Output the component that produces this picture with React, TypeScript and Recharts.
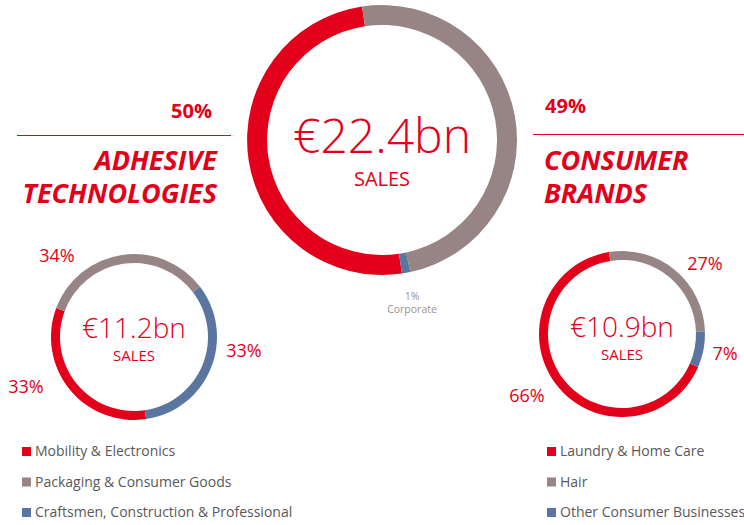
import React from "react";
import { Pie, PieChart, Cell } from "recharts";

// Group split (big ring) – order: Adhesive, Consumer, Corporate
const groupNames = ["Adhesive Technologies", "Consumer Brands", "Corporate"];
const groupShares = [50, 49, 1];

// Adhesive Technologies business units
const adhesiveNames = [
  "Mobility & Electronics",
  "Packaging & Consumer Goods",
  "Craftsmen, Construction & Professional",
];
const adhesiveShares = [33, 34, 33];

// Consumer Brands business units
const consumerNames = ["Laundry & Home Care", "Hair", "Other Consumer Businesses"];
const consumerShares = [66, 27, 7];

const totals = ["€22.4bn", "€11.2bn", "€10.9bn"];

const RED = "#E2001A";
const GREY = "#978585";
const BLUE = "#5A76A0";
const COLORS = [RED, GREY, BLUE];
const FONT = "'Open Sans', sans-serif";

const toRows = (names: string[], values: number[]) =>
  names.map((name, i) => ({ name, value: values[i] }));

// where the percent labels sit around the small rings
const adhesiveLabelPos = [
  { x: 26, y: 393 },
  { x: 57, y: 262 },
  { x: 244, y: 357 },
];
const consumerLabelPos = [
  { x: 527, y: 402 },
  { x: 705, y: 270 },
  { x: 725, y: 360 },
];

const Legend = ({ x, names }: { x: number; names: string[] }) => (
  <g>
    {names.map((n, i) => (
      <g key={n}>
        <rect x={x} y={447 + i * 30.5} width={9} height={9} fill={COLORS[i]} />
        <text
          x={x + 13}
          y={456 + i * 30.5}
          fontSize={14}
          fill="#595959"
          fontFamily={FONT}
        >
          {n}
        </text>
      </g>
    ))}
  </g>
);

const Center = ({
  cx,
  cy,
  label,
  big,
}: {
  cx: number;
  cy: number;
  label: string;
  big?: boolean;
}) => (
  <g fontFamily={FONT} fill={RED} textAnchor="middle">
    <text x={cx} y={big ? cy + 13 : cy} fontSize={big ? 48 : 28} fontWeight={300}>
      {label}
    </text>
    <text x={cx} y={big ? cy + 46 : cy + 23} fontSize={big ? 20 : 15}>
      SALES
    </text>
  </g>
);

export default function App() {
  const groupData = toRows(groupNames, groupShares);
  const adhesiveData = toRows(adhesiveNames, adhesiveShares);
  const consumerData = toRows(consumerNames, consumerShares);

  return (
    <div style={{ position: "absolute", left: 0, top: 0, background: "#fff" }}>
      <PieChart width={744} height={525} margin={{ top: 0, right: 0, bottom: 0, left: 0 }}>
        <Pie
          data={groupData}
          dataKey="value"
          cx={382}
          cy={140}
          innerRadius={115}
          outerRadius={135}
          startAngle={278.5}
          endAngle={-81.5}
          stroke="none"
          isAnimationActive={false}
        >
          {groupData.map((d, i) => (
            <Cell key={d.name} fill={COLORS[i]} />
          ))}
        </Pie>
        <Pie
          data={adhesiveData}
          dataKey="value"
          cx={134}
          cy={337}
          innerRadius={74}
          outerRadius={83}
          startAngle={278.4}
          endAngle={-81.6}
          stroke="none"
          isAnimationActive={false}
        >
          {adhesiveData.map((d, i) => (
            <Cell key={d.name} fill={COLORS[i]} />
          ))}
        </Pie>
        <Pie
          data={consumerData}
          dataKey="value"
          cx={622}
          cy={334}
          innerRadius={74}
          outerRadius={83}
          startAngle={336.6}
          endAngle={-23.4}
          stroke="none"
          isAnimationActive={false}
        >
          {consumerData.map((d, i) => (
            <Cell key={d.name} fill={COLORS[i]} />
          ))}
        </Pie>

        {/* headings */}
        <g fontFamily={FONT} fill={RED}>
          <text x={212} y={118} fontSize={20} fontWeight={700} textAnchor="end">
            {groupShares[0]}%
          </text>
          <text x={545} y={113} fontSize={20} fontWeight={700}>
            {groupShares[1]}%
          </text>
          <line x1={17} x2={231} y1={135.5} y2={135.5} stroke={RED} strokeWidth={1} />
          <line x1={533} x2={744} y1={134.5} y2={134.5} stroke={RED} strokeWidth={1} />
          <g fontSize={27} fontWeight={700} fontStyle="italic">
            <text x={217} y={170} textAnchor="end">ADHESIVE</text>
            <text x={217} y={203} textAnchor="end">TECHNOLOGIES</text>
            <text x={544} y={170}>CONSUMER</text>
            <text x={544} y={203}>BRANDS</text>
          </g>
        </g>

        <Center cx={382} cy={140} label={totals[0]} big />
        <Center cx={134} cy={338} label={totals[1]} />
        <Center cx={622} cy={337} label={totals[2]} />

        {/* corporate note */}
        <g fontFamily={FONT} fill="#A09090" fontSize={10.5} textAnchor="middle">
          <text x={412} y={300}>{groupShares[2]}%</text>
          <text x={412} y={313}>{groupNames[2]}</text>
        </g>

        {/* percent labels */}
        <g fontFamily={FONT} fill={RED} fontSize={18} textAnchor="middle">
          {adhesiveShares.map((v, i) => (
            <text key={"a" + i} x={adhesiveLabelPos[i].x} y={adhesiveLabelPos[i].y}>
              {v}%
            </text>
          ))}
          {consumerShares.map((v, i) => (
            <text key={"c" + i} x={consumerLabelPos[i].x} y={consumerLabelPos[i].y}>
              {v}%
            </text>
          ))}
        </g>

        <Legend x={22} names={adhesiveNames} />
        <Legend x={547} names={consumerNames} />
      </PieChart>
    </div>
  );
}
